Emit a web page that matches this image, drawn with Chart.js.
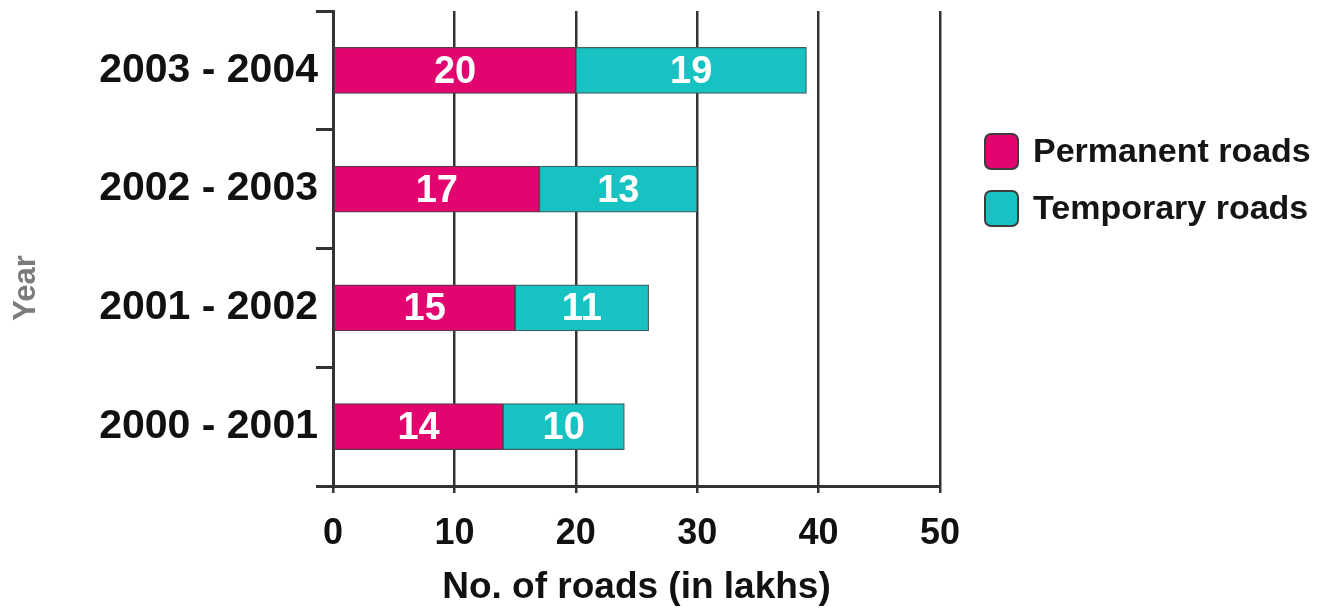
<!DOCTYPE html>
<html>
<head>
<meta charset="utf-8">
<title>Roads constructed per year</title>
<script src="https://cdn.jsdelivr.net/npm/chart.js@4.4.1/dist/chart.umd.min.js"></script>
<style>
  html, body { margin: 0; padding: 0; background: #ffffff; }
  #wrap { width: 1331px; height: 611px; }
</style>
</head>
<body>
<div id="wrap"><canvas id="roads" width="1331" height="611"></canvas></div>
<script>
// Years, bottom to top
const years = ['2000 - 2001', '2001 - 2002', '2002 - 2003', '2003 - 2004'];
// Roads built, in lakhs
const permanentRoads = [14, 15, 17, 20];
const temporaryRoads = [10, 11, 13, 19];
const seriesNames = ['Permanent roads', 'Temporary roads'];
const xTicks = [0, 10, 20, 30, 40, 50];
const yTitle = 'Year';

const PINK = '#e2046f';
const TEAL = '#17c2c3';
const INK = '#333333';
const FONT = '"Liberation Sans", Arial, Helvetica, sans-serif';

// White value labels centred in each bar segment
const segmentLabels = {
  id: 'segmentLabels',
  afterDatasetsDraw(chart) {
    const ctx = chart.ctx;
    ctx.save();
    ctx.fillStyle = '#ffffff';
    ctx.font = 'bold 38px ' + FONT;
    ctx.textAlign = 'center';
    ctx.textBaseline = 'middle';
    chart.data.datasets.forEach((ds, di) => {
      const meta = chart.getDatasetMeta(di);
      meta.data.forEach((bar, i) => {
        const p = bar.getProps(['x', 'y', 'base'], true);
        ctx.fillText(String(ds.data[i]), (p.x + p.base) / 2, p.y + 2);
      });
    });
    ctx.restore();
  }
};

// Legend to the right of the plot, and the rotated "Year" axis caption
const sideLegend = {
  id: 'sideLegend',
  afterDraw(chart) {
    const ctx = chart.ctx;
    const left = 985, top = 134, box = 33, boxH = 35, gap = 57;
    ctx.save();
    chart.data.datasets.forEach((ds, i) => {
      const y = top + i * gap;
      ctx.beginPath();
      ctx.roundRect(left, y, box, boxH, 6);
      ctx.fillStyle = ds.backgroundColor;
      ctx.fill();
      ctx.lineWidth = 2;
      ctx.strokeStyle = '#3d3d3d';
      ctx.stroke();
      ctx.fillStyle = '#151515';
      ctx.font = 'bold 34px ' + FONT;
      ctx.textAlign = 'left';
      ctx.textBaseline = 'middle';
      ctx.fillText(ds.label, left + 48, y + boxH / 2 + 1);
    });

    ctx.translate(26, 288);
    ctx.rotate(-Math.PI / 2);
    ctx.fillStyle = '#7b7b7b';
    ctx.font = 'bold 31px ' + FONT;
    ctx.textAlign = 'center';
    ctx.textBaseline = 'middle';
    ctx.fillText(yTitle, 0, 0);
    ctx.restore();
  }
};

new Chart(document.getElementById('roads'), {
  type: 'bar',
  data: {
    labels: years,
    datasets: [
      { label: seriesNames[0], data: permanentRoads, backgroundColor: PINK,
        borderColor: '#5a3a48', borderWidth: 1.2, borderSkipped: false },
      { label: seriesNames[1], data: temporaryRoads, backgroundColor: TEAL,
        borderColor: '#3f5f5f', borderWidth: 1.2, borderSkipped: false }
    ]
  },
  options: {
    indexAxis: 'y',
    responsive: false,
    devicePixelRatio: 1,
    animation: false,
    barThickness: 46,
    layout: { padding: { left: 4, top: 11, right: 391, bottom: 0 } },
    plugins: {
      legend: { display: false },
      tooltip: { enabled: false }
    },
    scales: {
      x: {
        stacked: true,
        min: 0,
        max: 50,
        afterBuildTicks(scale) { scale.ticks = xTicks.map(v => ({ value: v })); },
        afterFit(scale) { scale.height = 125; },
        border: { display: true, color: INK, width: 3 },
        grid: { color: INK, lineWidth: 2.5, tickLength: 7, drawOnChartArea: true },
        ticks: {
          color: '#111111',
          padding: 19,
          font: { family: FONT, size: 36, weight: 'bold' }
        },
        title: {
          display: true,
          text: 'No. of roads (in lakhs)',
          color: '#111111',
          font: { family: FONT, size: 37, weight: 'bold' },
          padding: { top: 0, bottom: 1 }
        }
      },
      y: {
        stacked: true,
        reverse: true,
        afterFit(scale) {
          scale.width = 329;
          scale.paddingTop = 0;
          scale.paddingBottom = 0;
        },
        border: { display: true, color: INK, width: 3 },
        grid: { color: INK, lineWidth: 3, tickLength: 17, drawOnChartArea: false, offset: true },
        ticks: {
          color: '#111111',
          padding: -2,
          font: { family: FONT, size: 41, weight: 'bold' }
        },
        title: { display: false }
      }
    }
  },
  plugins: [segmentLabels, sideLegend]
});
</script>
</body>
</html>
